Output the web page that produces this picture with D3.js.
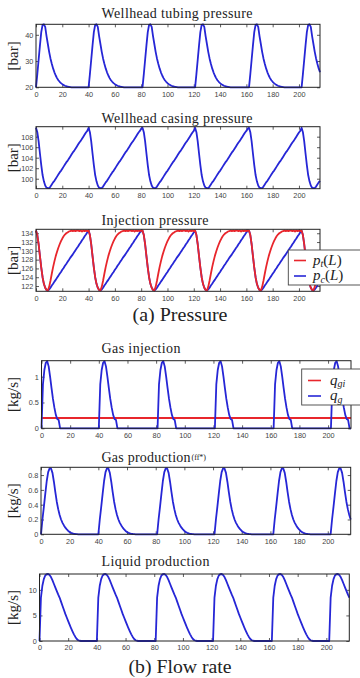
<!DOCTYPE html>
<html><head><meta charset="utf-8">
<script src="https://cdn.jsdelivr.net/npm/d3@7"></script>
<style>body{margin:0;background:#fff}svg{display:block}</style>
</head><body>
<svg id="c" width="360" height="678"></svg>
<script>
// ---------- data (time in s, one sample per unit) ----------
const time = d3.range(0, 217);
const xTicks = [0, 20, 40, 60, 80, 100, 120, 140, 160, 180, 200];

const tubingP = [
 20,25,30.5,36,41,43.8,44,43,39.5,36.5,33.5,31,29,27.2,25.7,24.5,23.5,22.7,22.1,21.6,21.2,20.9,20.6,20.4,20.3,20.2,20.1,20,20,20,20,20,20,20,20,20,20,20,20,20,
 20,25,30.5,36,41,43.8,44,43,39.5,36.5,33.5,31,29,27.2,25.7,24.5,23.5,22.7,22.1,21.6,21.2,20.9,20.6,20.4,20.3,20.2,20.1,20,20,20,20,20,20,20,20,20,20,20,20,20,20,
 20,25,30.5,36,41,43.8,44,43,39.5,36.5,33.5,31,29,27.2,25.7,24.5,23.5,22.7,22.1,21.6,21.2,20.9,20.6,20.4,20.3,20.2,20.1,20,20,20,20,20,20,20,20,20,20,20,20,20,
 20,25,30.5,36,41,43.8,44,43,39.5,36.5,33.5,31,29,27.2,25.7,24.5,23.5,22.7,22.1,21.6,21.2,20.9,20.6,20.4,20.3,20.2,20.1,20,20,20,20,20,20,20,20,20,20,20,20,20,20,
 20,25,30.5,36,41,43.8,44,43,39.5,36.5,33.5,31,29,27.2,25.7,24.5,23.5,22.7,22.1,21.6,21.2,20.9,20.6,20.4,20.3,20.2,20.1,20,20,20,20,20,20,20,20,20,20,20,20,20,
 20,25,30.5,36,41,43.8,44,43,39.5,36.5,33.5,31,29,27.2,25.7
];
const casingP = [
 109.7,108.85,107.1,104.8,102.6,100.7,99.5,98.7,98.3,98.2,98.2,98.5,98.9,99.3,99.6,100.0,100.4,100.8,101.2,101.5,101.9,102.3,102.7,103.1,103.4,103.8,104.2,104.6,105.0,105.3,105.7,106.1,106.5,106.9,107.2,107.6,108.0,108.4,108.8,109.1,
 109.7,108.85,107.1,104.8,102.6,100.7,99.5,98.7,98.3,98.2,98.2,98.5,98.9,99.3,99.6,100.0,100.4,100.8,101.2,101.5,101.9,102.3,102.7,103.1,103.4,103.8,104.2,104.6,105.0,105.3,105.7,106.1,106.5,106.9,107.2,107.6,108.0,108.4,108.8,109.1,109.5,
 109.7,108.85,107.1,104.8,102.6,100.7,99.5,98.7,98.3,98.2,98.2,98.5,98.9,99.3,99.6,100.0,100.4,100.8,101.2,101.5,101.9,102.3,102.7,103.1,103.4,103.8,104.2,104.6,105.0,105.3,105.7,106.1,106.5,106.9,107.2,107.6,108.0,108.4,108.8,109.1,
 109.7,108.85,107.1,104.8,102.6,100.7,99.5,98.7,98.3,98.2,98.2,98.5,98.9,99.3,99.6,100.0,100.4,100.8,101.2,101.5,101.9,102.3,102.7,103.1,103.4,103.8,104.2,104.6,105.0,105.3,105.7,106.1,106.5,106.9,107.2,107.6,108.0,108.4,108.8,109.1,109.5,
 109.7,108.85,107.1,104.8,102.6,100.7,99.5,98.7,98.3,98.2,98.2,98.5,98.9,99.3,99.6,100.0,100.4,100.8,101.2,101.5,101.9,102.3,102.7,103.1,103.4,103.8,104.2,104.6,105.0,105.3,105.7,106.1,106.5,106.9,107.2,107.6,108.0,108.4,108.8,109.1,
 109.7,108.85,107.1,104.8,102.6,100.7,99.5,98.7,98.3,98.2,98.2,98.5,98.9,99.3,99.6
];
const injPt = [
 134.6,133.6,131.5,128.8,126.2,124.0,122.5,121.6,121.1,121.0,121.8,123.2,124.8,126.3,127.6,128.8,129.8,130.7,131.5,132.2,132.8,133.3,133.7,134.0,134.2,134.4,134.5,134.6,134.5,134.6,134.5,134.6,134.6,134.5,134.6,134.4,134.6,134.5,134.6,134.5,
 134.6,133.6,131.5,128.8,126.2,124.0,122.5,121.6,121.1,121.0,121.8,123.2,124.8,126.3,127.6,128.8,129.8,130.7,131.5,132.2,132.8,133.3,133.7,134.0,134.2,134.4,134.5,134.6,134.5,134.6,134.5,134.6,134.6,134.5,134.6,134.4,134.6,134.5,134.6,134.5,134.6,
 134.6,133.6,131.5,128.8,126.2,124.0,122.5,121.6,121.1,121.0,121.8,123.2,124.8,126.3,127.6,128.8,129.8,130.7,131.5,132.2,132.8,133.3,133.7,134.0,134.2,134.4,134.5,134.6,134.5,134.6,134.5,134.6,134.6,134.5,134.6,134.4,134.6,134.5,134.6,134.5,
 134.6,133.6,131.5,128.8,126.2,124.0,122.5,121.6,121.1,121.0,121.8,123.2,124.8,126.3,127.6,128.8,129.8,130.7,131.5,132.2,132.8,133.3,133.7,134.0,134.2,134.4,134.5,134.6,134.5,134.6,134.5,134.6,134.6,134.5,134.6,134.4,134.6,134.5,134.6,134.5,134.6,
 134.6,133.6,131.5,128.8,126.2,124.0,122.5,121.6,121.1,121.0,121.8,123.2,124.8,126.3,127.6,128.8,129.8,130.7,131.5,132.2,132.8,133.3,133.7,134.0,134.2,134.4,134.5,134.6,134.5,134.6,134.5,134.6,134.6,134.5,134.6,134.4,134.6,134.5,134.6,134.5,
 134.6,133.6,131.5,128.8,126.2,124.0,122.5,121.6,121.1,121.0,121.8,123.2,124.8,126.3,127.6
];
const injPc = [
 134.6,133.6,131.5,128.8,126.2,124.0,122.5,121.6,121.1,121.0,121.2,121.6,122.1,122.5,123.0,123.4,123.9,124.3,124.8,125.2,125.7,126.1,126.6,127.0,127.5,127.9,128.4,128.8,129.2,129.7,130.1,130.6,131.0,131.5,131.9,132.4,132.8,133.3,133.7,134.2,
 134.6,133.6,131.5,128.8,126.2,124.0,122.5,121.6,121.1,121.0,121.2,121.6,122.1,122.5,123.0,123.4,123.9,124.3,124.8,125.2,125.7,126.1,126.6,127.0,127.5,127.9,128.4,128.8,129.2,129.7,130.1,130.6,131.0,131.5,131.9,132.4,132.8,133.3,133.7,134.2,134.6,
 134.6,133.6,131.5,128.8,126.2,124.0,122.5,121.6,121.1,121.0,121.2,121.6,122.1,122.5,123.0,123.4,123.9,124.3,124.8,125.2,125.7,126.1,126.6,127.0,127.5,127.9,128.4,128.8,129.2,129.7,130.1,130.6,131.0,131.5,131.9,132.4,132.8,133.3,133.7,134.2,
 134.6,133.6,131.5,128.8,126.2,124.0,122.5,121.6,121.1,121.0,121.2,121.6,122.1,122.5,123.0,123.4,123.9,124.3,124.8,125.2,125.7,126.1,126.6,127.0,127.5,127.9,128.4,128.8,129.2,129.7,130.1,130.6,131.0,131.5,131.9,132.4,132.8,133.3,133.7,134.2,134.6,
 134.6,133.6,131.5,128.8,126.2,124.0,122.5,121.6,121.1,121.0,121.2,121.6,122.1,122.5,123.0,123.4,123.9,124.3,124.8,125.2,125.7,126.1,126.6,127.0,127.5,127.9,128.4,128.8,129.2,129.7,130.1,130.6,131.0,131.5,131.9,132.4,132.8,133.3,133.7,134.2,
 134.6,133.6,131.5,128.8,126.2,124.0,122.5,121.6,121.1,121.0,121.2,121.6,122.1,122.5,123.0
];
const gasInjQg = [
 0,0.85,1.13,1.27,1.3,1.2,1.0,0.78,0.57,0.4,0.26,0.18,0.16,0, 0,0,0,0,0,0,0,0,0,0, 0,0,0,0,0,0,0,0,0,0, 0,0,0,0,0,0,
 0,0.85,1.13,1.27,1.3,1.2,1.0,0.78,0.57,0.4,0.26,0.18,0.16,0, 0,0,0,0,0,0,0,0,0,0, 0,0,0,0,0,0,0,0,0,0, 0,0,0,0,0,0,0,
 0,0.85,1.13,1.27,1.3,1.2,1.0,0.78,0.57,0.4,0.26,0.18,0.16,0, 0,0,0,0,0,0,0,0,0,0, 0,0,0,0,0,0,0,0,0,0, 0,0,0,0,0,0,
 0,0.85,1.13,1.27,1.3,1.2,1.0,0.78,0.57,0.4,0.26,0.18,0.16,0, 0,0,0,0,0,0,0,0,0,0, 0,0,0,0,0,0,0,0,0,0, 0,0,0,0,0,0,0,
 0,0.85,1.13,1.27,1.3,1.2,1.0,0.78,0.57,0.4,0.26,0.18,0.16,0, 0,0,0,0,0,0,0,0,0,0, 0,0,0,0,0,0,0,0,0,0, 0,0,0,0,0,0,
 0,0.85,1.13,1.27,1.3,1.2,1.0,0.78,0.57,0.4,0.26,0.18,0.16,0,0
];
const gasInjQgiT = [0, 216];
const gasInjQgi = [0.2, 0.2];
const gasProd = [
 0,0.2,0.37,0.55,0.72,0.84,0.89,0.89,0.83,0.71,0.57,0.44,0.34,0.26,0.2,0.155,0.12,0.09,0.065,0.045,0.03,0.02,0.012,0.007,0.004,0.002, 0,0,0,0,0,0,0,0,0,0, 0,0,0,0,
 0,0.2,0.37,0.55,0.72,0.84,0.89,0.89,0.83,0.71,0.57,0.44,0.34,0.26,0.2,0.155,0.12,0.09,0.065,0.045,0.03,0.02,0.012,0.007,0.004,0.002, 0,0,0,0,0,0,0,0,0,0, 0,0,0,0,0,
 0,0.2,0.37,0.55,0.72,0.84,0.89,0.89,0.83,0.71,0.57,0.44,0.34,0.26,0.2,0.155,0.12,0.09,0.065,0.045,0.03,0.02,0.012,0.007,0.004,0.002, 0,0,0,0,0,0,0,0,0,0, 0,0,0,0,
 0,0.2,0.37,0.55,0.72,0.84,0.89,0.89,0.83,0.71,0.57,0.44,0.34,0.26,0.2,0.155,0.12,0.09,0.065,0.045,0.03,0.02,0.012,0.007,0.004,0.002, 0,0,0,0,0,0,0,0,0,0, 0,0,0,0,0,
 0,0.2,0.37,0.55,0.72,0.84,0.89,0.89,0.83,0.71,0.57,0.44,0.34,0.26,0.2,0.155,0.12,0.09,0.065,0.045,0.03,0.02,0.012,0.007,0.004,0.002, 0,0,0,0,0,0,0,0,0,0, 0,0,0,0,
 0,0.2,0.37,0.55,0.72,0.84,0.89,0.89,0.83,0.71,0.57,0.44,0.34,0.26,0.2
];
const liquidProd = [
 0,8.5,10.8,12.1,12.8,13.05,13.1,12.9,12.5,11.9,11.2,10.5,9.8,9.1,8.5,7.7,6.9,6.1,5.3,4.6,3.9,3.2,2.5,1.9,1.3,0.8,0.4,0.15,0.05, 0,0,0,0,0,0,0,0,0,0, 0,
 0,8.5,10.8,12.1,12.8,13.05,13.1,12.9,12.5,11.9,11.2,10.5,9.8,9.1,8.5,7.7,6.9,6.1,5.3,4.6,3.9,3.2,2.5,1.9,1.3,0.8,0.4,0.15,0.05, 0,0,0,0,0,0,0,0,0,0, 0,0,
 0,8.5,10.8,12.1,12.8,13.05,13.1,12.9,12.5,11.9,11.2,10.5,9.8,9.1,8.5,7.7,6.9,6.1,5.3,4.6,3.9,3.2,2.5,1.9,1.3,0.8,0.4,0.15,0.05, 0,0,0,0,0,0,0,0,0,0, 0,
 0,8.5,10.8,12.1,12.8,13.05,13.1,12.9,12.5,11.9,11.2,10.5,9.8,9.1,8.5,7.7,6.9,6.1,5.3,4.6,3.9,3.2,2.5,1.9,1.3,0.8,0.4,0.15,0.05, 0,0,0,0,0,0,0,0,0,0, 0,0,
 0,8.5,10.8,12.1,12.8,13.05,13.1,12.9,12.5,11.9,11.2,10.5,9.8,9.1,8.5,7.7,6.9,6.1,5.3,4.6,3.9,3.2,2.5,1.9,1.3,0.8,0.4,0.15,0.05, 0,0,0,0,0,0,0,0,0,0, 0,
 0,8.5,10.8,12.1,12.8,13.05,13.1,12.9,12.5,11.9,11.2,10.5,9.8,9.1,8.5
];

// ---------- drawing ----------
const svg = d3.select("#c");
const BLUE = "#2626d6", RED = "#e8262c";
const SERIF = "'Liberation Serif','Times New Roman',serif";
const SANS = "'Liberation Sans',Arial,sans-serif";
const xDomain = [0, 216];

const panels = [
 {title:"Wellhead tubing pressure", tw:151, ty:18.3, l:36, r:320, t:24.3, b:87.3, yd:[20,44], yt:[20,30,40], yl:"[bar]",
  series:[{t:time, v:tubingP, c:BLUE}]},
 {title:"Wellhead casing pressure", tw:151, ty:123.3, l:36, r:320, t:126.7, b:188.7, yd:[98.1,109.9], yt:[100,102,104,106,108], yl:"[bar]",
  series:[{t:time, v:casingP, c:BLUE}]},
 {title:"Injection pressure", tw:107, ty:225, l:36, r:320, t:229.3, b:291.3, yd:[120.8,134.9], yt:[122,124,126,128,130,132,134], yl:"[bar]",
  series:[{t:time, v:injPc, c:BLUE},{t:time, v:injPt, c:RED}],
  legend:{x:288.3, y:250, w:80, h:35, items:[{c:RED, s:"p", sub:"t", tail:true, y:260.5},{c:BLUE, s:"p", sub:"c", tail:true, y:276}], lx:294, lw:12, tx:313}},
 {title:"Gas injection", tw:79, ty:352.7, l:41.5, r:351, t:360.7, b:428.3, yd:[0,1.31], yt:[0,0.5,1], yl:"[kg/s]",
  series:[{t:gasInjQgiT, v:gasInjQgi, c:RED},{t:time, v:gasInjQg, c:BLUE}],
  legend:{x:301.7, y:369, w:70, h:36, items:[{c:RED, s:"q", sub:"gi", y:380.5},{c:BLUE, s:"q", sub:"g", y:396}], lx:308, lw:13, tx:330}},
 {title:"Gas production", tw:89, ty:462, l:41, r:350.7, t:467.3, b:534.3, yd:[0,0.905], yt:[0,0.2,0.4,0.6,0.8], yl:"[kg/s]",
  series:[{t:time, v:gasProd, c:BLUE}], glitch:"(ff*)"},
 {title:"Liquid production", tw:108, ty:566, l:39.5, r:349.3, t:574, b:641, yd:[0,13.1], yt:[0,5,10], yl:"[kg/s]",
  series:[{t:time, v:liquidProd, c:BLUE}]}
];

function styleAxis(g){
  g.select(".domain").remove();
  g.selectAll("line").attr("stroke","#333").attr("stroke-width",0.8);
  g.selectAll("text").attr("font-family",SANS).attr("font-size",7.3).attr("fill","#444");
}

panels.forEach(p => {
  const x = d3.scaleLinear().domain(xDomain).range([p.l, p.r]);
  const y = d3.scaleLinear().domain(p.yd).range([p.b, p.t]);
  const g = svg.append("g");

  g.append("g").attr("transform",`translate(0,${p.b})`)
    .call(d3.axisBottom(x).tickValues(xTicks).tickSizeInner(-3).tickSizeOuter(0).tickPadding(4.3)).call(styleAxis);
  g.append("g").attr("transform",`translate(0,${p.t})`)
    .call(d3.axisTop(x).tickValues(xTicks).tickSizeInner(-3).tickSizeOuter(0).tickFormat("")).call(styleAxis);
  g.append("g").attr("transform",`translate(${p.l},0)`)
    .call(d3.axisLeft(y).tickValues(p.yt).tickSizeInner(-3).tickSizeOuter(0).tickPadding(2.6).tickFormat(d3.format("~g"))).call(styleAxis);
  g.append("g").attr("transform",`translate(${p.r},0)`)
    .call(d3.axisRight(y).tickValues(p.yt).tickSizeInner(-3).tickSizeOuter(0).tickFormat("")).call(styleAxis);

  p.series.forEach(s => {
    const line = d3.line().x((d,i)=>x(s.t[i])).y(d=>y(d));
    g.append("path").datum(s.v).attr("d",line).attr("fill","none")
      .attr("stroke",s.c).attr("stroke-width",1.8).attr("stroke-linejoin","round");
  });

  g.append("rect").attr("x",p.l).attr("y",p.t).attr("width",p.r-p.l).attr("height",p.b-p.t)
    .attr("fill","none").attr("stroke","#222").attr("stroke-width",1);

  g.append("text").attr("x",101.5).attr("y",p.ty).attr("font-family",SERIF)
    .attr("font-size",14).attr("fill","#222").attr("textLength",p.tw).attr("lengthAdjust","spacing").text(p.title);
  if (p.glitch) {
    g.append("text").attr("x",101.5+p.tw+1).attr("y",p.ty-2).attr("font-family",SERIF)
      .attr("font-size",8).attr("fill","#222").text(p.glitch);
  }

  g.append("text").attr("transform",`translate(17.5,${(p.t+p.b)/2}) rotate(-90)`).attr("text-anchor","middle")
    .attr("font-family",SERIF).attr("font-size",15).attr("fill","#222").text(p.yl);

  if (p.legend) {
    const L = p.legend;
    g.append("rect").attr("x",L.x).attr("y",L.y).attr("width",L.w).attr("height",L.h)
      .attr("fill","#fff").attr("stroke","#444").attr("stroke-width",0.9);
    L.items.forEach(it => {
      g.append("line").attr("x1",L.lx).attr("x2",L.lx+L.lw).attr("y1",it.y).attr("y2",it.y)
        .attr("stroke",it.c).attr("stroke-width",1.6);
      const t = g.append("text").attr("x",L.tx).attr("y",it.y+4).attr("font-family",SERIF)
        .attr("font-size",15).attr("fill","#222");
      t.append("tspan").attr("font-style","italic").text(it.s);
      t.append("tspan").attr("font-style","italic").attr("font-size",10).attr("dy",2.5).text(it.sub);
      if (it.tail) {
        t.append("tspan").attr("dy",-2.5).text("(");
        t.append("tspan").attr("font-style","italic").text("L");
        t.append("tspan").text(")");
      }
    });
  }
});

svg.append("text").attr("x",180).attr("y",321).attr("text-anchor","middle").attr("font-family",SERIF)
  .attr("font-size",18).attr("fill","#222").attr("textLength",95).attr("lengthAdjust","spacingAndGlyphs").text("(a) Pressure");
svg.append("text").attr("x",180).attr("y",673).attr("text-anchor","middle").attr("font-family",SERIF)
  .attr("font-size",18).attr("fill","#222").attr("textLength",103).attr("lengthAdjust","spacingAndGlyphs").text("(b) Flow rate");
</script>
</body></html>
